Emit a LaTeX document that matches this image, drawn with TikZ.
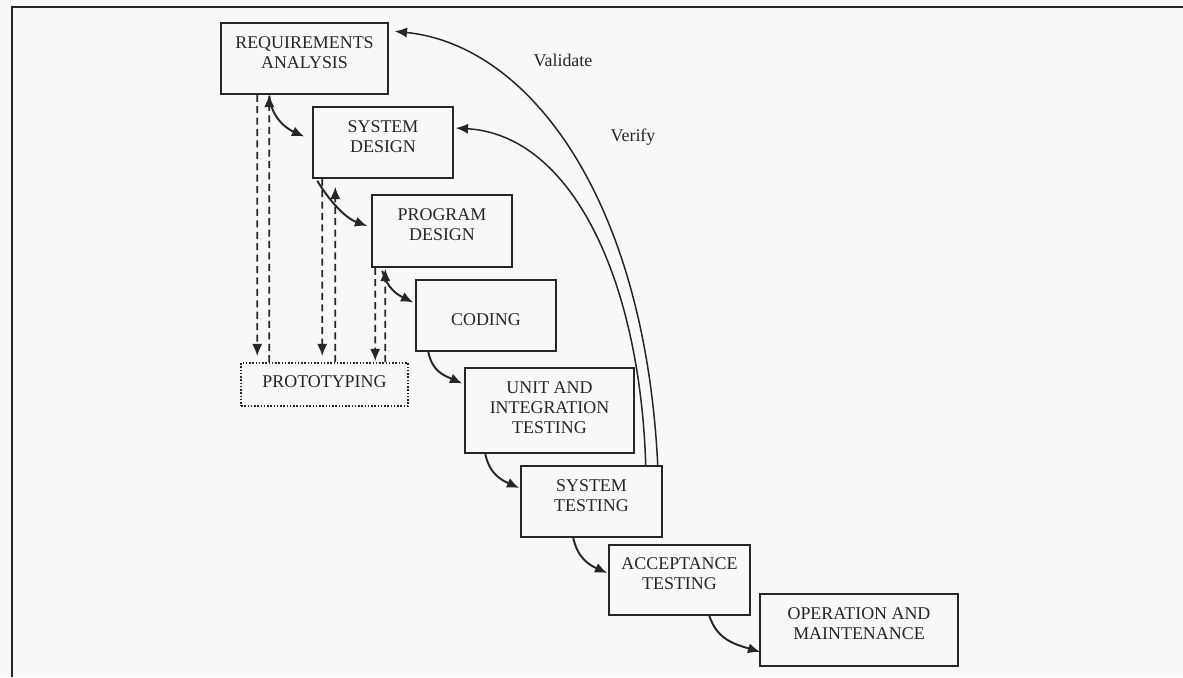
\documentclass[tikz,border=0pt]{standalone}
\usepackage{fontspec}
\setmainfont{Liberation Serif}
\usetikzlibrary{arrows.meta,calc}
\definecolor{ink}{HTML}{262626}
\definecolor{paper}{HTML}{F8F8F6}
\begin{document}
\begin{tikzpicture}[x=0.02cm,y=-0.02cm,
  box/.style={draw=ink, line width=0.85pt, rectangle, inner sep=0pt},
  txt/.style={align=center, text=ink, font=\fontsize{10.2}{11.4}\selectfont},
  tip/.style={-{Latex[length=7pt,width=5.8pt]}},
  flow/.style={draw=ink, line width=1.1pt, tip},
  fb/.style={draw=ink, line width=0.85pt, tip},
  dsh/.style={draw=ink, line width=1.1pt, tip, dash pattern=on 4pt off 2.5pt},
]
\useasboundingbox (0,0) rectangle (1183,677);
\fill[paper] (0,0) rectangle (1183,677);
% page frame
\draw[ink, line width=1.1pt] (12,677) -- (12,7) -- (1183,7);

% boxes
\node[box, minimum width=3.34cm, minimum height=1.42cm,
  label={[txt,yshift=3.1pt]center:{REQUIREMENTS\\ANALYSIS}}] (req) at (304.5,58.5) {};
\node[box, minimum width=2.8cm, minimum height=1.42cm,
  label={[txt,yshift=3.1pt]center:{SYSTEM\\DESIGN}}] (sd) at (383,142.5) {};
\node[box, minimum width=2.8cm, minimum height=1.44cm,
  label={[txt,yshift=3.5pt]center:{PROGRAM\\DESIGN}}] (pd) at (442,231) {};
\node[box, minimum width=2.8cm, minimum height=1.42cm,
  label={[txt,yshift=-2.5pt]center:{CODING}}] (cod) at (486,315.5) {};
\node[box, minimum width=3.38cm, minimum height=1.7cm,
  label={[txt,yshift=1.7pt]center:{UNIT AND\\INTEGRATION\\TESTING}}] (uit) at (549.5,410.5) {};
\node[box, minimum width=2.82cm, minimum height=1.42cm,
  label={[txt,yshift=3.1pt]center:{SYSTEM\\TESTING}}] (st) at (591.5,501.5) {};
\node[box, minimum width=2.82cm, minimum height=1.4cm,
  label={[txt,yshift=3.6pt]center:{ACCEPTANCE\\TESTING}}] (at) at (679.5,580) {};
\node[box, minimum width=3.96cm, minimum height=1.44cm,
  label={[txt,yshift=3.6pt]center:{OPERATION AND\\MAINTENANCE}}] (om) at (859,630) {};
\node[box, densely dotted, line width=0.9pt, minimum width=3.34cm, minimum height=0.86cm,
  label={[txt,yshift=1.7pt]center:{PROTOTYPING}}] (pro) at (324.5,384.5) {};

% labels of feedback loops
\node[txt] (val) at (563,60) {Validate};
\node[txt] (ver) at (633,137) {Verify};

% forward flow
\draw[flow] ($(req.south west)+(49,1)$) .. controls +(2,22) and +(-18,-8) .. ($(sd.west)+(-8,-6)$);
\draw[flow] ($(sd.south west)+(5,2)$) .. controls +(12,20) and +(-22,-8) .. ($(pd.west)+(-4,-5)$);
\draw[flow] ($(pd.south west)+(11,3)$) .. controls +(5,18) and +(-16,-8) .. ($(cod.west)+(-2,-13)$);
\draw[flow] ($(cod.south west)+(13,0)$) .. controls +(4,20) and +(-18,-8) .. ($(uit.west)+(-2,-27)$);
\draw[flow] ($(uit.south west)+(21,0)$) .. controls +(4,20) and +(-18,-8) .. ($(st.west)+(-1,-13.5)$);
\draw[flow] ($(st.south west)+(53,0)$) .. controls +(4,20) and +(-18,-8) .. ($(at.west)+(-1,-7)$);
\draw[flow] ($(at.south west)+(101,0)$) .. controls +(8,24) and +(-26,-8) .. ($(om.west)+(1,22)$);

% prototyping links
\draw[dsh] ($(req.south west)+(37,0)$) -- ($(pro.north west)+(17,-6)$);
\draw[dsh] ($(pro.north west)+(29,0)$) -- ($(req.south west)+(49,0)$);
\draw[dsh] ($(sd.south west)+(10,0)$) -- ($(pro.north west)+(82,-6)$);
\draw[dsh] ($(pro.north west)+(95,0)$) -- ($(sd.south west)+(23,8)$);
\draw[dsh] ($(pd.south west)+(4,0)$) -- ($(pro.north west)+(135,-1)$);
\draw[dsh] ($(pro.north west)+(145,0)$) -- ($(pd.south west)+(14,1)$);

% feedback loops
\draw[fb] ($(st.north east)+(-5,0)$) .. controls (645,200) and (530,45) .. ($(req.north east)+(6,9)$);
\draw[fb] ($(st.north east)+(-17,0)$) .. controls (640,280) and (572,135) .. ($(sd.east)+(2,-14.5)$);
\end{tikzpicture}
\end{document}
